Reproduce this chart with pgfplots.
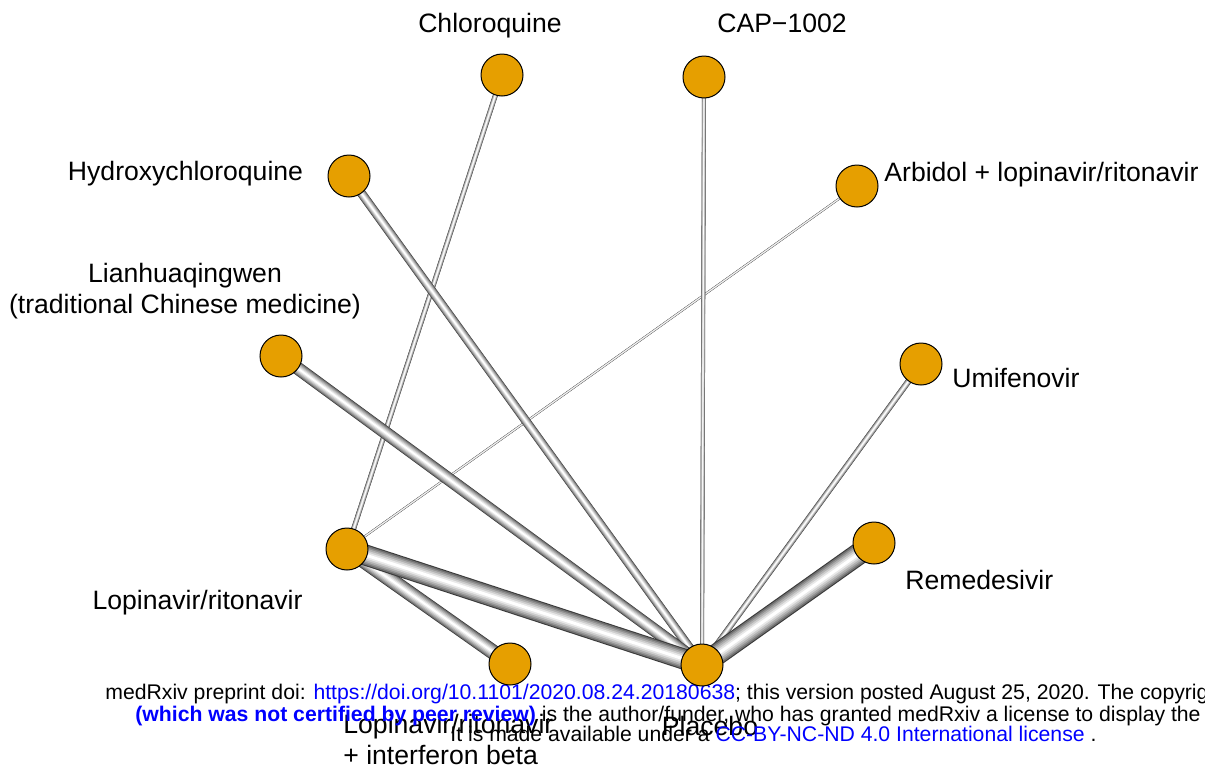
\documentclass[border=0pt]{standalone}
\usepackage{pgfplots}
\pgfplotsset{compat=1.18}
\usepackage{fontspec}
\setmainfont{Liberation Sans}
\definecolor{nodeor}{HTML}{E69F00}
\definecolor{lk}{RGB}{0,0,255}
\definecolor{g1}{HTML}{3A3A3A}
\definecolor{g2}{HTML}{707070}
\definecolor{g3}{HTML}{929292}
\definecolor{g4}{HTML}{B0B0B0}
\definecolor{g5}{HTML}{CDCDCD}
\definecolor{g6}{HTML}{E8E8E8}
\newcommand{\lab}{\fontsize{13.3pt}{15pt}\selectfont}
\newcommand{\foot}{\fontsize{10.6pt}{13pt}\selectfont}
% edge: x1 y1 x2 y2 width(px)
\newcommand{\edge}[5]{%
  \addplot[mark=none, draw=g1, line width={#5*0.5pt}] coordinates {(#1,#2) (#3,#4)};
  \addplot[mark=none, draw=g2, line width={#5*0.45pt}] coordinates {(#1,#2) (#3,#4)};
  \addplot[mark=none, draw=g3, line width={#5*0.38pt}] coordinates {(#1,#2) (#3,#4)};
  \addplot[mark=none, draw=g4, line width={#5*0.31pt}] coordinates {(#1,#2) (#3,#4)};
  \addplot[mark=none, draw=g5, line width={#5*0.23pt}] coordinates {(#1,#2) (#3,#4)};
  \addplot[mark=none, draw=g6, line width={#5*0.15pt}] coordinates {(#1,#2) (#3,#4)};
  \addplot[mark=none, draw=white, line width={#5*0.07pt}] coordinates {(#1,#2) (#3,#4)};
}
\begin{document}
\begin{tikzpicture}
\useasboundingbox (0,0) rectangle (602.5pt,383pt);
\clip (0,0) rectangle (602.5pt,383pt);
\begin{axis}[at={(0,0)}, anchor=south west, scale only axis,
  width=602.5pt, height=383pt,
  xmin=0, xmax=1205, ymin=0, ymax=766, y dir=reverse,
  hide axis, clip=false]
% edges
\edge{857}{186}{347}{549}{2}
\edge{704}{77}{702}{665}{4}
\edge{502}{75}{347}{549}{5}
\edge{921}{364}{702}{665}{6}
\edge{349}{176}{702}{665}{9}
\edge{281}{356}{702}{665}{13}
\edge{347}{549}{510}{664}{15}
\edge{347}{549}{702}{665}{21}
\edge{874}{543}{702}{665}{22}
% nodes
\addplot[only marks, mark=*, mark size=10.5pt,
  mark options={fill=nodeor, draw=black, line width=0.5pt}]
  coordinates {(502,75) (704,77) (349,176) (857,186) (281,356) (921,364)
               (347,549) (874,543) (510,664) (702,665)};
% labels
\node[anchor=base, font=\lab] at (axis cs:490,32) {Chloroquine};
\node[anchor=base, font=\lab] at (axis cs:782,32) {CAP−1002};
\node[anchor=base, font=\lab] at (axis cs:185.5,180) {Hydroxychloroquine};
\node[anchor=base west, inner sep=0pt, font=\lab] at (axis cs:884,181) {Arbidol + lopinavir/ritonavir};
\node[anchor=base, font=\lab] at (axis cs:185,282) {Lianhuaqingwen};
\node[anchor=base, font=\lab] at (axis cs:185,313) {(traditional Chinese medicine)};
\node[anchor=base west, inner sep=0pt, font=\lab] at (axis cs:952,387) {Umifenovir};
\node[anchor=base west, inner sep=0pt, font=\lab] at (axis cs:905,589) {Remedesivir};
\node[anchor=base, font=\lab] at (axis cs:197.5,609) {Lopinavir/ritonavir};
\node[anchor=base west, inner sep=0pt, font=\lab] at (axis cs:343,733) {Lopinavir/ritonavir};
\node[anchor=base west, inner sep=0pt, font=\lab] at (axis cs:343,764) {+ interferon beta};
\node[anchor=base, font=\lab] at (axis cs:710,735) {Placebo};
% footer
\node[anchor=base west, inner sep=0pt, font=\foot] at (axis cs:105,699)
  {medRxiv preprint doi: \textcolor{lk}{https://doi.org/10.1101/2020.08.24.20180638}; this version posted August 25, 2020. The copyright holder for this preprint};
\node[anchor=base west, inner sep=0pt, font=\foot] at (axis cs:135,721)
  {\textcolor{lk}{\textbf{(which was not certified by peer review)}} is the author/funder, who has granted medRxiv a license to display the preprint in perpetuity.};
\node[anchor=base west, inner sep=0pt, font=\foot] at (axis cs:450,741)
  {It is made available under a \textcolor{lk}{CC-BY-NC-ND 4.0 International license} .};
\end{axis}
\end{tikzpicture}
\end{document}
